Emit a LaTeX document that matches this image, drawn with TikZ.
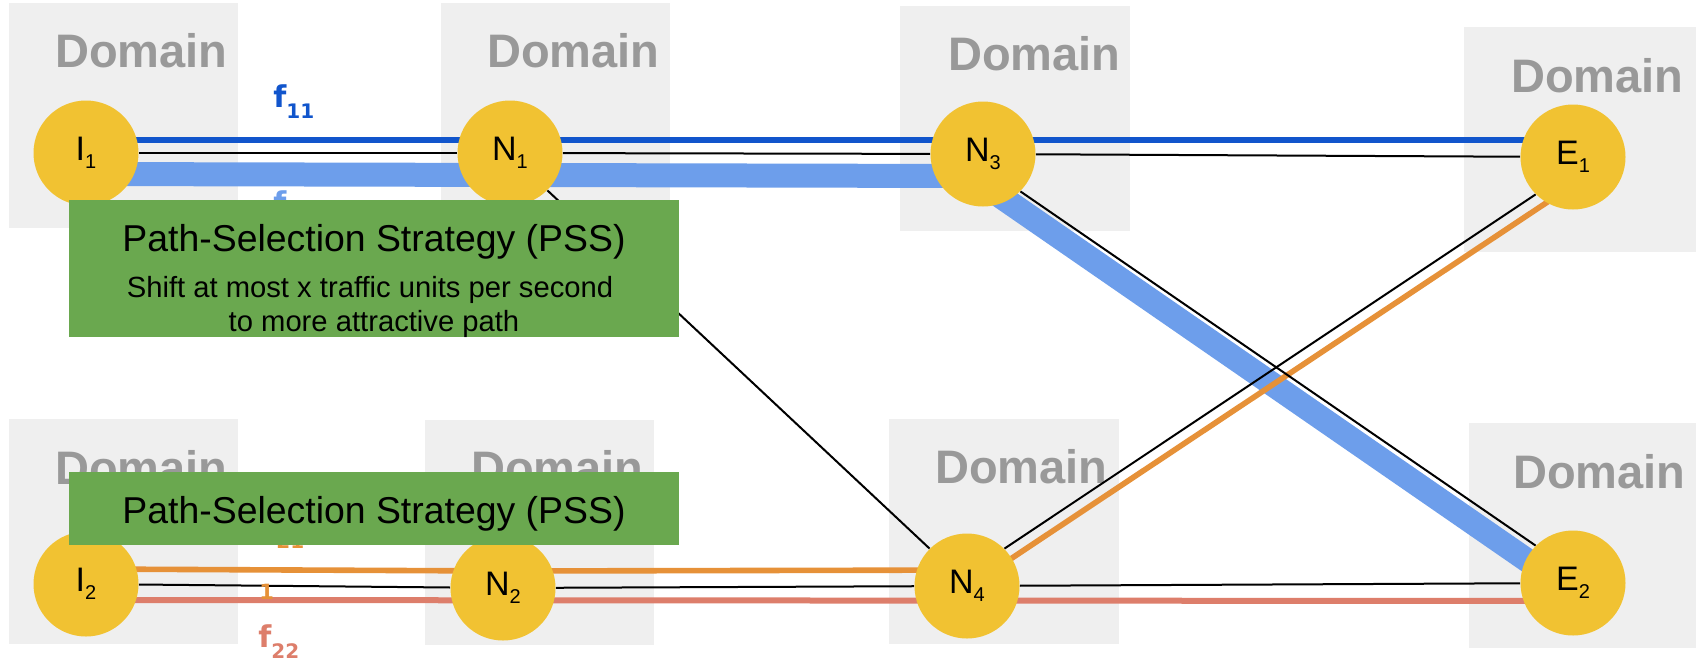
\documentclass[tikz,border=0pt]{standalone}
\usepackage{fontspec}
\setmainfont{Liberation Sans}
\newfontfamily\flowfont{DejaVu Sans}
\usetikzlibrary{calc}

\definecolor{routeryellow}{HTML}{F1C232}
\definecolor{domaingray}{HTML}{EFEFEF}
\definecolor{domaintextgray}{HTML}{999999}
\definecolor{pssgreen}{HTML}{6AA84F}
\definecolor{flowdarkblue}{HTML}{1155CC}
\definecolor{flowlightblue}{HTML}{6D9EEB}
\definecolor{floworange}{HTML}{E69138}
\definecolor{flowsalmon}{HTML}{DD7E6B}

\pgfdeclarelayer{back}
\pgfdeclarelayer{lines}
\pgfdeclarelayer{front}
\pgfsetlayers{back,lines,main,front}

\newcommand{\nlab}[2]{#1\raisebox{-4pt}{\fontsize{10}{12}\selectfont #2}}
\newcommand{\flab}[1]{f\raisebox{-5.5pt}{\fontsize{10}{12}\selectfont #1}}

\tikzset{
  router/.style={circle, fill=routeryellow, minimum size=52.5pt, inner sep=0pt,
    font=\fontsize{17}{20}\selectfont},
  domainbox/.style={fill=domaingray},
  domaintext/.style={anchor=north east, inner sep=0pt, text=domaintextgray,
    font=\fontsize{23.5}{28}\selectfont\bfseries},
  link/.style={draw=black, line width=1pt},
  flowline/.style={line width=#1, line join=round},
  flowlabel/.style={anchor=base west, inner sep=0pt,
    font=\flowfont\bfseries\fontsize{15}{18}\selectfont},
  pssbox/.style={fill=pssgreen, inner sep=0pt, minimum width=305pt},
  psstitle/.style={anchor=base, inner sep=0pt, font=\fontsize{18.7}{22}\selectfont},
  psssub/.style={anchor=base, inner sep=0pt, font=\fontsize{14.6}{17}\selectfont},
}

\begin{document}
\begin{tikzpicture}[x=0.5pt, y=-0.5pt]
        \useasboundingbox (0,0) rectangle (1696,665);

        % Domains
        \begin{pgfonlayer}{back}
        \fill[domainbox] (9,3) rectangle (238,228);
        \fill[domainbox] (441,3) rectangle (670,228);
        \fill[domainbox] (900,6) rectangle (1130,231);
        \fill[domainbox] (1464,27) rectangle (1696,252);
        \fill[domainbox] (9,419) rectangle (238,644);
        \fill[domainbox] (425,420) rectangle (654,645);
        \fill[domainbox] (889,419) rectangle (1119,644);
        \fill[domainbox] (1469,423) rectangle (1696,648);

        \node[domaintext] (domI1) at (228,33) {Domain};
        \node[domaintext] (domN1) at (660,33) {Domain};
        \node[domaintext] (domN3) at (1121,36) {Domain};
        \node[domaintext] (domE1) at (1684,58) {Domain};
        \node[domaintext] (domI2) at (228,450) {Domain};
        \node[domaintext] (domN2) at (644,450) {Domain};
        \node[domaintext] (domN4) at (1108,449) {Domain};
        \node[domaintext] (domE2) at (1686,454) {Domain};
        \end{pgfonlayer}

        % Routers
        \node[router] (I1) at (86,153) {\nlab{I}{1}};
        \node[router] (N1) at (510,153) {\nlab{N}{1}};
        \node[router] (N3) at (983,154) {\nlab{N}{3}};
        \node[router] (E1) at (1573,157) {\nlab{E}{1}};
        \node[router] (I2) at (86,584) {\nlab{I}{2}};
        \node[router] (N2) at (503,588) {\nlab{N}{2}};
        \node[router] (N4) at (967,586) {\nlab{N}{4}};
        \node[router] (E2) at (1573,583) {\nlab{E}{2}};

        % Flows
        \begin{pgfonlayer}{lines}
        \draw[flowline=3pt, flowdarkblue] ($(I1)+(0,-13)$) -- ($(E1)+(0,-17)$);
        \draw[flowline=12pt, flowlightblue] ($(I1)+(0,21)$) -- ($(N3)+(-12,22)$) -- ($(E2)+(0,9)$);
        \draw[flowline=2.8pt, floworange] ($(I2)+(0,-15)$) -- ($(N2)+(0,-17)$) -- ($(N4)+(27,-16)$) -- ($(E1)+(0,28)$);
        \draw[flowline=3pt, flowsalmon] ($(I2)+(0,16)$) -- ($(E2)+(0,18)$);

        % Links
        \draw[link] (I1) -- (N1);
        \draw[link] (N1) -- (N3);
        \draw[link] (N3) -- (E1);
        \draw[link] (N1.south east) -- (N4.north west);
        \draw[link] (N3.south east) -- (E2.north west);
        \draw[link] (I2) -- (N2);
        \draw[link] (N2) -- (N4);
        \draw[link] (N4) -- (E2);
        \draw[link] (N4.north east) -- (E1.south west);
        \end{pgfonlayer}

        % Labels
        \node[flowlabel, text=flowdarkblue] (lf11) at (273,107) {\flab{11}};
        \node[flowlabel, text=flowlightblue] (lf12) at (273,213) {\flab{12}};
        \node[flowlabel, text=floworange] (lf21) at (263,537) {\flab{21}};
        \node[flowlabel, text=floworange, font=\flowfont\bfseries\fontsize{10.5}{12}\selectfont] (lone) at (259,599) {1};
        \node[flowlabel, text=flowsalmon] (lf22) at (258,647) {\flab{22}};

        % PSS
        \begin{pgfonlayer}{front}
        \node[pssbox, minimum height=68.5pt] (pssA) at (374,268.5) {};
        \node[psstitle] (pssAtitle) at (374,251) {Path-Selection Strategy (PSS)};
        \node[psssub] (pssAsub1) at (370,297) {Shift at most x traffic units per second};
        \node[psssub] (pssAsub2) at (374,331) {to more attractive path};

        \node[pssbox, minimum height=36.5pt] (pssB) at (374,508.5) {};
        \node[psstitle] (pssBtitle) at (374,523) {Path-Selection Strategy (PSS)};
        \end{pgfonlayer}
\end{tikzpicture}
\end{document}
